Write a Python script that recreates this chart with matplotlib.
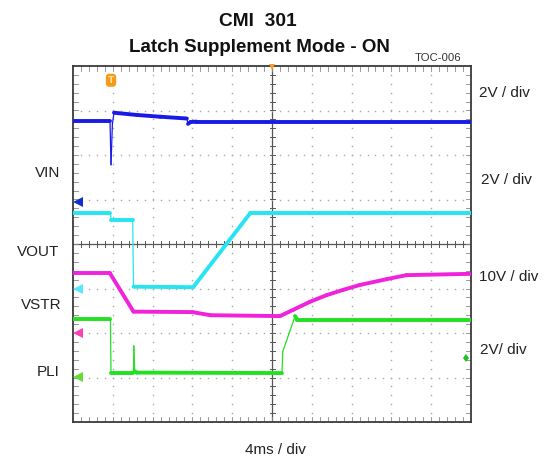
import numpy as np
import matplotlib
matplotlib.use("Agg")
import matplotlib.pyplot as plt
from matplotlib.collections import LineCollection

# ---------------- data (screen divisions: x 0..10, y 0..8 from bottom) ----------------
vin_x = [0.0, 0.93, 0.955, 0.99, 1.03, 1.6, 2.19, 2.86, 2.89, 2.95, 3.1, 10.0]
vin_y = [6.76, 6.76, 5.78, 6.70, 6.95, 6.90, 6.86, 6.82, 6.70, 6.74, 6.75, 6.75]

vout_x = [0.0, 0.94, 0.96, 1.50, 1.52, 3.02, 4.45, 10.0]
vout_y = [4.69, 4.69, 4.55, 4.55, 3.04, 3.03, 4.69, 4.69]

vstr_x = [0.0, 0.93, 1.52, 3.0, 3.45, 5.2, 5.53, 5.95, 6.37, 6.79, 7.21, 7.88, 8.38, 10.0]
vstr_y = [3.34, 3.34, 2.48, 2.47, 2.40, 2.38, 2.52, 2.70, 2.85, 2.97, 3.08, 3.21, 3.30, 3.33]

pli_x = [0.0, 0.94, 0.955, 1.52, 1.53, 1.55, 1.60, 5.25, 5.27, 5.58, 5.64, 10.0]
pli_y = [2.31, 2.31, 1.11, 1.11, 1.71, 1.14, 1.11, 1.10, 1.58, 2.38, 2.29, 2.29]

ground_y = {"VIN": 4.95, "VOUT": 2.99, "VSTR": 1.99, "PLI": 1.02}

left_labels = ["VIN", "VOUT", "VSTR", "PLI"]
right_labels = ["2V / div", "2V / div", "10V / div", "2V/ div"]
time_label = "4ms / div"
title1 = "CMI  301"
title2 = "Latch Supplement Mode - ON"
toc = "TOC-006"

# ---------------- style ----------------
W, H = 545, 462
plt.rcParams["font.family"] = ["Liberation Sans", "DejaVu Sans"]

fig = plt.figure(figsize=(W / 100, H / 100), dpi=100)
L, R, T, B = 73, 471, 66, 422
ax = fig.add_axes([L / W, 1 - B / H, (R - L) / W, (B - T) / H])
ax.set_xlim(0, 10)
ax.set_ylim(0, 8)
ax.set_xticks([])
ax.set_yticks([])
for s in ax.spines.values():
    s.set_color("#3a3a3a")
    s.set_linewidth(1.3)

pxx = (R - L) / 10.0
pxy = (B - T) / 8.0

# dotted grid
for gx in range(1, 10):
    if gx == 5:
        continue
    ys = np.arange(0.2, 8.0, 0.2)
    ax.plot(np.full_like(ys, gx), ys, ls="none", marker="s", ms=1.0, color="#a8a8a8", mew=0)
for gy in range(1, 8):
    if gy == 4:
        continue
    xs = np.arange(0.2, 10.0, 0.2)
    ax.plot(xs, np.full_like(xs, gy), ls="none", marker="s", ms=1.0, color="#a8a8a8", mew=0)

# centre cross with minor ticks
ax.axvline(5, color="#555555", lw=0.9, zorder=1)
ax.axhline(4, color="#555555", lw=0.9, zorder=1)
tx = np.arange(0.2, 10.0, 0.2)
ty = np.arange(0.2, 8.0, 0.2)
tick_len_y = 2.5 / pxy
tick_len_x = 2.5 / pxx
for v in tx:
    ax.plot([v, v], [4 - tick_len_y, 4 + tick_len_y], color="#555555", lw=0.7)
    ax.plot([v, v], [0, 2 * tick_len_y], color="#888888", lw=0.6)
    ax.plot([v, v], [8 - 2 * tick_len_y, 8], color="#888888", lw=0.6)
for v in ty:
    ax.plot([5 - tick_len_x, 5 + tick_len_x], [v, v], color="#555555", lw=0.7)
    ax.plot([0, 2 * tick_len_x], [v, v], color="#888888", lw=0.6)
    ax.plot([10 - 2 * tick_len_x, 10], [v, v], color="#888888", lw=0.6)


def draw_trace(x, y, color):
    x = np.asarray(x, float)
    y = np.asarray(y, float)
    pts = np.column_stack([x, y])
    segs = np.stack([pts[:-1], pts[1:]], axis=1)
    dxp = np.abs(np.diff(x)) * pxx
    dyp = np.abs(np.diff(y)) * pxy
    steep = dyp > 2.5 * dxp
    lws = np.where(steep, 0.9, 2.8)
    lc = LineCollection(segs, colors=color, linewidths=lws, capstyle="round",
                        joinstyle="round", zorder=3)
    ax.add_collection(lc)


draw_trace(vin_x, vin_y, "#1a1ae6")
draw_trace(vout_x, vout_y, "#26e4f2")
draw_trace(vstr_x, vstr_y, "#f022dc")
draw_trace(pli_x, pli_y, "#22e022")

# ground markers
gcolors = {"VIN": "#1030c8", "VOUT": "#55e8ff", "VSTR": "#ff3fb0", "PLI": "#66dd33"}
for k, gy in ground_y.items():
    ax.plot([0.13], [gy], marker="<", ms=7, color=gcolors[k], mew=0, zorder=4, clip_on=False)

# trigger markers
ax.text(0.955, 7.68, "T", ha="center", va="center", fontsize=6.5, color="#ffe0a0",
        fontweight="bold", family=["DejaVu Sans"],
        bbox=dict(boxstyle="round,pad=0.15,rounding_size=0.3", fc="#f59a1a", ec="#f59a1a"), zorder=5)
ax.plot([5], [7.97], marker="v", ms=5, color="#f5a020", mew=0, zorder=5, clip_on=False)
ax.plot([9.87], [1.44], marker="d", ms=4.5, color="#22c022", mew=0, zorder=5)


def ftext(x, y, s, **kw):
    fig.text(x / W, 1 - y / H, s, **kw)


ftext(258, 21, title1, ha="center", va="center", fontsize=13.8, fontweight="bold", color="#111111")
ftext(259, 48, title2, ha="center", va="center", fontsize=13.5, fontweight="bold", color="#111111")
ftext(438, 58, toc, ha="center", va="center", fontsize=8.2, color="#333333")

for lab, yy, xr in zip(left_labels, [173, 252, 305, 372], [60, 59, 62, 60]):
    ftext(xr, yy, lab, ha="right", va="center", fontsize=11, color="#222222")
for lab, yy, xl in zip(right_labels, [93, 180, 277, 350], [479, 481, 479, 480]):
    ftext(xl, yy, lab, ha="left", va="center", fontsize=11, color="#222222")
ftext(275, 450, time_label, ha="center", va="center", fontsize=11, color="#222222")

fig.savefig("out.png", dpi=100)
